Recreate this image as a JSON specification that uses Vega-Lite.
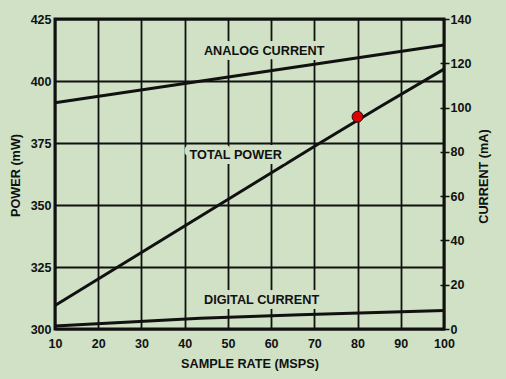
{
  "$schema": "https://vega.github.io/schema/vega-lite/v6.json",
  "width": 389,
  "height": 310,
  "autosize": {"type": "none"},
  "padding": {"left": 55, "top": 19, "right": 62, "bottom": 50},
  "layer": [
    {
      "layer": [
        {
          "data": {"values": [
            {"rate": 10, "power": 309.5},
            {"rate": 71.3, "power": 375},
            {"rate": 85.2, "power": 389.6},
            {"rate": 100, "power": 404.8}
          ]},
          "mark": {"type": "line", "color": "#111", "strokeWidth": 3},
          "encoding": {
            "x": {"field": "rate", "type": "quantitative", "scale": {"domain": [10, 100], "nice": false},
                  "axis": {"values": [10, 20, 30, 40, 50, 60, 70, 80, 90, 100], "title": "SAMPLE RATE (MSPS)", "grid": true, "ticks": false, "labelFlush": false, "labelPadding": 8, "titleY": 38, "titleBaseline": "alphabetic"}},
            "y": {"field": "power", "type": "quantitative", "scale": {"domain": [300, 425], "nice": false, "zero": false},
                  "axis": {"orient": "left", "values": [300, 325, 350, 375, 400, 425], "title": "POWER (mW)", "grid": true, "ticks": false, "labelPadding": 4, "titleAngle": -90, "titleX": -35.5, "titleY": 156, "titleBaseline": "alphabetic"}}
          }
        },
        {
          "data": {"values": [{"rate": 80, "power": 385.6}]},
          "mark": {"type": "point", "filled": true, "shape": "circle", "size": 120, "fill": "#e00000", "stroke": "#111", "strokeWidth": 1, "opacity": 1},
          "encoding": {
            "x": {"field": "rate", "type": "quantitative"},
            "y": {"field": "power", "type": "quantitative"}
          }
        }
      ]
    },
    {
      "layer": [
        {
          "data": {"values": [
            {"rate": 10, "current": 102.2, "series": "Analog Current"},
            {"rate": 100, "current": 128.3, "series": "Analog Current"},
            {"rate": 10, "current": 1.4, "series": "Digital Current"},
            {"rate": 43.6, "current": 4.8, "series": "Digital Current"},
            {"rate": 66.7, "current": 6.4, "series": "Digital Current"},
            {"rate": 100, "current": 8.3, "series": "Digital Current"}
          ]},
          "mark": {"type": "line", "color": "#111", "strokeWidth": 3},
          "encoding": {
            "x": {"field": "rate", "type": "quantitative"},
            "y": {"field": "current", "type": "quantitative", "scale": {"domain": [0, 140], "nice": false},
                  "axis": {"orient": "right", "offset": -4, "values": [0, 20, 40, 60, 80, 100, 120, 140], "title": "CURRENT (mA)", "grid": false, "ticks": true, "tickSize": 9, "tickWidth": 1.5, "labelPadding": 1, "titleAngle": -90, "titleX": 47.2, "titleY": 157, "titleBaseline": "alphabetic"}},
            "detail": {"field": "series", "type": "nominal"}
          }
        },
        {
          "data": {"values": [
            {"rate": 58.4, "current": 125.7, "label": "ANALOG CURRENT"},
            {"rate": 51.8, "current": 78.6, "label": "TOTAL POWER"},
            {"rate": 57.8, "current": 13.1, "label": "DIGITAL CURRENT"}
          ]},
          "mark": {"type": "text", "font": "Liberation Sans", "fontWeight": "bold", "fontSize": 12.7, "fill": "#d0e1c5", "stroke": "#d0e1c5", "strokeWidth": 10, "strokeJoin": "round", "baseline": "middle", "align": "center"},
          "encoding": {
            "x": {"field": "rate", "type": "quantitative"},
            "y": {"field": "current", "type": "quantitative"},
            "text": {"field": "label", "type": "nominal"}
          }
        },
        {
          "data": {"values": [
            {"rate": 58.4, "current": 125.7, "label": "ANALOG CURRENT"},
            {"rate": 51.8, "current": 78.6, "label": "TOTAL POWER"},
            {"rate": 57.8, "current": 13.1, "label": "DIGITAL CURRENT"}
          ]},
          "mark": {"type": "text", "font": "Liberation Sans", "fontWeight": "bold", "fontSize": 12.7, "color": "#111", "baseline": "middle", "align": "center"},
          "encoding": {
            "x": {"field": "rate", "type": "quantitative"},
            "y": {"field": "current", "type": "quantitative"},
            "text": {"field": "label", "type": "nominal"}
          }
        }
      ]
    }
  ],
  "resolve": {"scale": {"y": "independent"}},
  "config": {
    "background": "#d0e1c5",
    "view": {"stroke": "#111", "strokeWidth": 3, "fill": null},
    "axis": {
      "labelFont": "Liberation Sans", "labelFontWeight": "bold", "labelFontSize": 12.5, "labelColor": "#111",
      "titleFont": "Liberation Sans", "titleFontWeight": "bold", "titleFontSize": 12.7, "titleColor": "#111",
      "domain": false, "gridColor": "#111", "gridOpacity": 1, "gridWidth": 1.8, "tickColor": "#111"
    }
  }
}
